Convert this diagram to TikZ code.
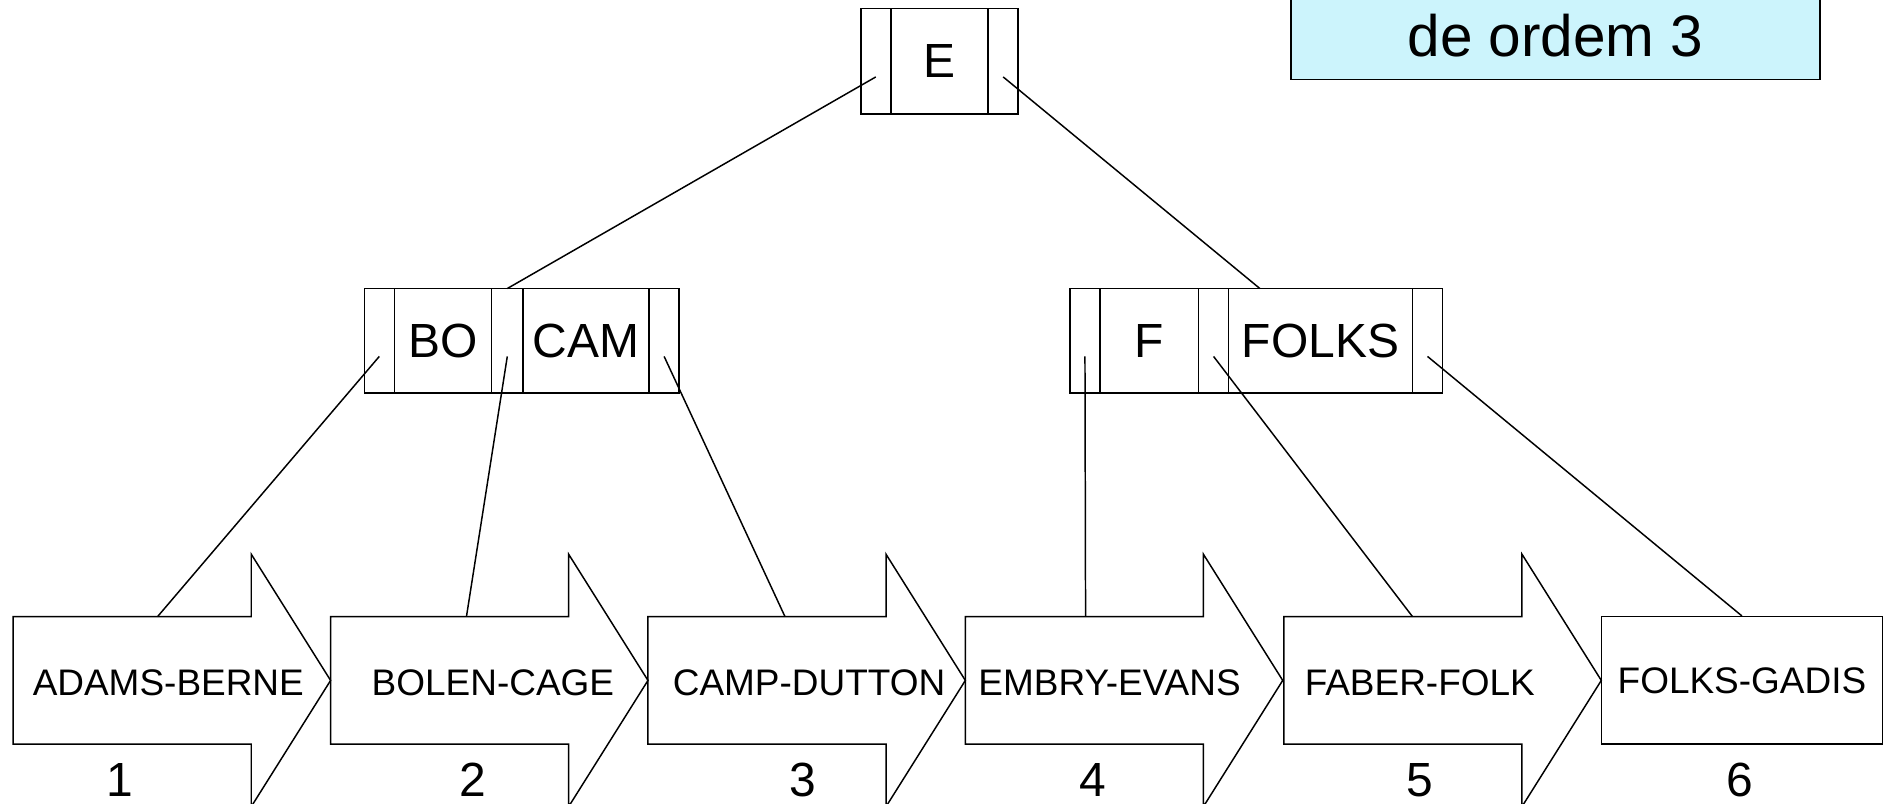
\documentclass[tikz,border=0pt]{standalone}
\usepackage{fontspec}
\setmainfont{Liberation Sans}
\usepackage{tikz}
\usetikzlibrary{positioning, calc}
\definecolor{titlefill}{RGB}{204,244,252}

\begin{document}
\begin{tikzpicture}[
            x = 0.02cm, y = -0.02cm, % one unit per pixel, y goes down
            node distance = 0pt, % cells of a node touch
            line width = 0.7pt % line style
        ]

        \tikzstyle{every node}=[font=\fontsize{22.7}{27}\selectfont]
        \tikzstyle{ptrcell}=[
            draw,
            inner sep = 0pt,
            outer sep = 0pt,
            minimum width = 0.5cm,
            minimum height = 1.74cm
        ]
        \tikzstyle{keycell}=[ptrcell]
        \tikzstyle{seqlabel}=[font=\fontsize{17.5}{21}\selectfont]
        \tikzstyle{seqnum}=[inner sep=0pt]
        \tikzstyle{titlebox}=[
            draw,
            fill = titlefill,
            minimum width = 8.8cm,
            minimum height = 1.44cm,
            font = \fontsize{27.7}{33}\selectfont
        ]

        \useasboundingbox (0,0) rectangle (1568,668);
        \clip (0,0) rectangle (1568,668);

        \node[titlebox] (tt) at (1294,30) {de ordem 3};

        % root
        \node[ptrcell, minimum height=1.76cm] (e0) at (728.5,51) {};
        \node[keycell, minimum height=1.76cm, minimum width=1.62cm] (e1) [right=of e0] {E};
        \node[ptrcell, minimum height=1.76cm] (e2) [right=of e1] {};

        % left index node
        \node[ptrcell] (l0) at (315.5,283.5) {};
        \node[keycell, minimum width=1.62cm] (l1) [right=of l0] {BO};
        \node[ptrcell, minimum width=0.52cm] (l2) [right=of l1] {};
        \node[keycell, minimum width=2.1cm] (l3) [right=of l2] {CAM};
        \node[ptrcell] (l4) [right=of l3] {};

        % right index node
        \node[ptrcell] (r0) at (902.5,283.5) {};
        \node[keycell, minimum width=1.64cm] (r1) [right=of r0] {F};
        \node[ptrcell] (r2) [right=of r1] {};
        \node[keycell, minimum width=3.06cm] (r3) [right=of r2] {FOLKS};
        \node[ptrcell] (r4) [right=of r3] {};

        % sequence set
        \foreach \x/\lx/\tx/\nx/\lab [count=\i] in {
                11/140/131/100/ADAMS-BERNE,
                275/410/388/393/BOLEN-CAGE,
                539/673/653/668/CAMP-DUTTON,
                803/923/903/909/EMBRY-EVANS,
                1068/1181/1175/1181/FABER-FOLK}{
            \draw (\x,513) -- ++(198,0) -- ++(0,-52) -- ++(66,105)
                -- ++(-66,105) -- ++(0,-52) -- ++(-198,0) -- cycle;
            \node[seqlabel] (s\i) at (\lx,568) {\lab};
            \node[seqnum] (n\i) at (\nx,649) {\i};
            \coordinate (t\i) at (\tx,513);
        }
        \node[draw, seqlabel, inner sep=0pt, minimum width=4.68cm, minimum height=2.12cm] (s6) at (1449,566) {FOLKS-GADIS};
        \node[seqnum] (n6) at (1447,649) {6};

        \draw ($(e0)+(0,13)$) -- (l2.north);
        \draw ($(e2)+(0,13)$) -- ($(r3.north west)+(26,0)$);
        \draw ($(l0)+(0,13)$) -- (t1);
        \draw ($(l2)+(0,13)$) -- (t2);
        \draw ($(l4)+(0,13)$) -- (t3);
        \draw ($(r0)+(0,13)$) -- (t4);
        \draw ($(r2)+(0,13)$) -- (t5);
        \draw ($(r4)+(0,13)$) -- (s6.north);

  \end{tikzpicture}
\end{document}
